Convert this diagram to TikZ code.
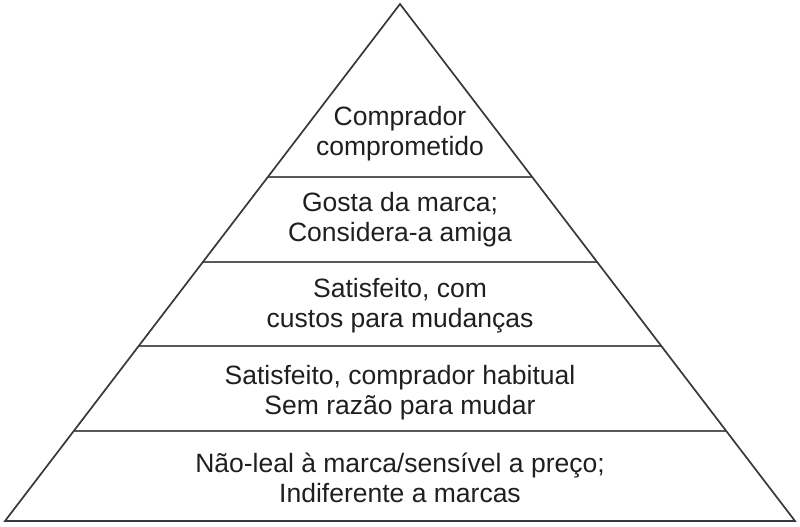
\documentclass[tikz,border=0pt]{standalone}
\usepackage{fontspec}
\setmainfont{Liberation Sans}
\begin{document}
\begin{tikzpicture}[x=1pt,y=-1pt,
  edge/.style={draw=black!78, line width=1.7pt, line join=miter},
  sep/.style={draw=black!65, line width=1.5pt},
  lbl/.style={align=center, font=\fontsize{26.5}{30}\selectfont, text=black!88, inner sep=0pt}]
\useasboundingbox (0,0) rectangle (800,527);
\coordinate (A) at (400,4);
\coordinate (L) at (5,521);
\coordinate (R) at (795,521);
% separator lines
\foreach \y/\n in {177/a,262/b,346/c,431/d}{
  \path (A) -- (L) coordinate[pos={(\y-4)/517}] (l\n);
  \path (A) -- (R) coordinate[pos={(\y-4)/517}] (r\n);
  \draw[sep] (l\n) -- (r\n);
}
\draw[edge] (A) -- (L) -- (R) -- cycle;
\node[lbl] (t1) at (400,134) {Comprador\\comprometido};
\node[lbl] (t2) at (400,220) {Gosta da marca;\\Considera-a amiga};
\node[lbl] (t3) at (400,306) {Satisfeito, com\\custos para mudanças};
\node[lbl] (t4) at (400,393) {Satisfeito, comprador habitual\\Sem razão para mudar};
\node[lbl] (t5) at (400,478) {Não-leal à marca/sensível a preço;\\Indiferente a marcas};
\end{tikzpicture}
\end{document}
